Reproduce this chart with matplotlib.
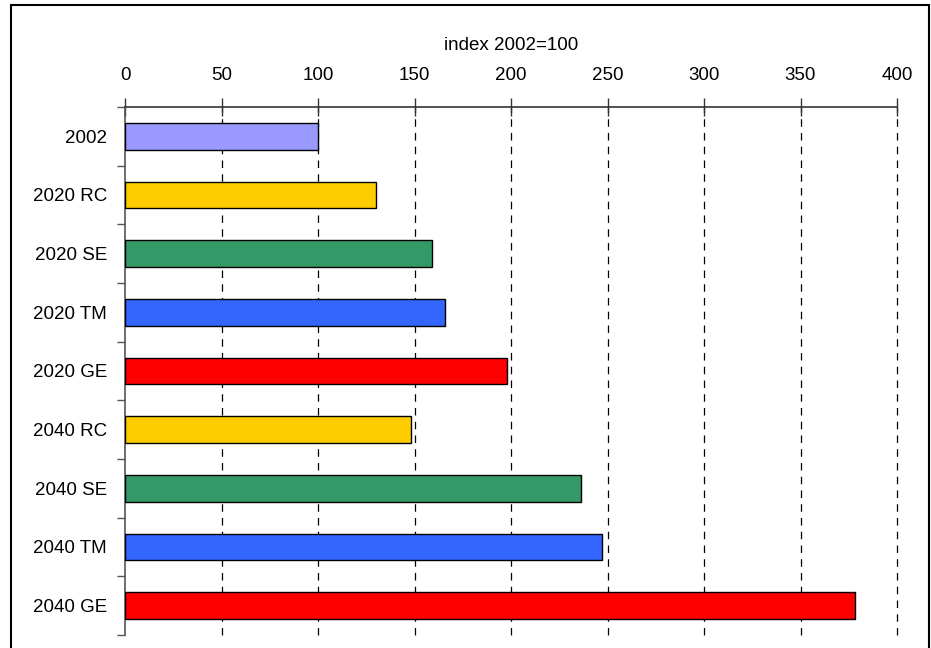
import matplotlib.pyplot as plt
from matplotlib.patches import Rectangle

plt.rcParams['font.family'] = ['Liberation Sans', 'DejaVu Sans']

# scenario labels and index values (2002 = 100)
labels = ["2002", "2020 RC", "2020 SE", "2020 TM", "2020 GE",
          "2040 RC", "2040 SE", "2040 TM", "2040 GE"]
values = [100, 130, 159, 166, 198, 148, 236, 247, 378]
colors = ["#9999FF", "#FFCC00", "#339966", "#3366FF", "#FF0000",
          "#FFCC00", "#339966", "#3366FF", "#FF0000"]
xticks = [0, 50, 100, 150, 200, 250, 300, 350, 400]

fig = plt.figure(figsize=(9.31, 6.48), dpi=100)
ax = fig.add_axes([0.1343, 0.0201, 0.8292, 0.8148])

pos = list(range(len(labels)))
ax.barh(pos, values, height=0.45, color=colors, edgecolor="black",
        linewidth=1.0, zorder=3)

ax.set_ylim(len(labels) - 0.5, -0.5)
ax.set_xlim(0, 400)

# x axis on top
ax.xaxis.tick_top()
ax.xaxis.set_label_position("top")
ax.set_xticks(xticks)
ax.set_xticklabels([str(t) for t in xticks], fontsize=13.5)
ax.set_xlabel("index 2002=100", fontsize=13.5, labelpad=12)
ax.tick_params(axis="x", which="major", direction="inout", length=13,
               width=1, pad=10, colors="#333333", labelcolor="black")

# category labels centred on bars, ticks between categories
ax.set_yticks(pos)
ax.set_yticklabels(labels, fontsize=13.5)
ax.tick_params(axis="y", which="major", length=0, pad=13)
ax.set_yticks([p + 0.5 for p in [-1] + pos], minor=True)
ax.tick_params(axis="y", which="minor", direction="out", length=6,
               width=1, colors="#555555")

for x in xticks[1:]:
    ax.axvline(x, color="black", linestyle=(0, (6, 5)), linewidth=0.9,
               zorder=1, clip_on=False)

ax.spines["right"].set_visible(False)
ax.spines["bottom"].set_visible(False)
ax.spines["top"].set_color("#333333")
ax.spines["left"].set_color("#555555")
ax.spines["top"].set_linewidth(1.2)
ax.spines["left"].set_linewidth(1.2)

# outer frame around the chart area
frame = Rectangle((11 / 931, -0.1), 918 / 931, 1.1 - 5 / 648,
                  transform=fig.transFigure, fill=False,
                  edgecolor="black", linewidth=1.5)
fig.patches.append(frame)

fig.savefig("out.png", dpi=100)
